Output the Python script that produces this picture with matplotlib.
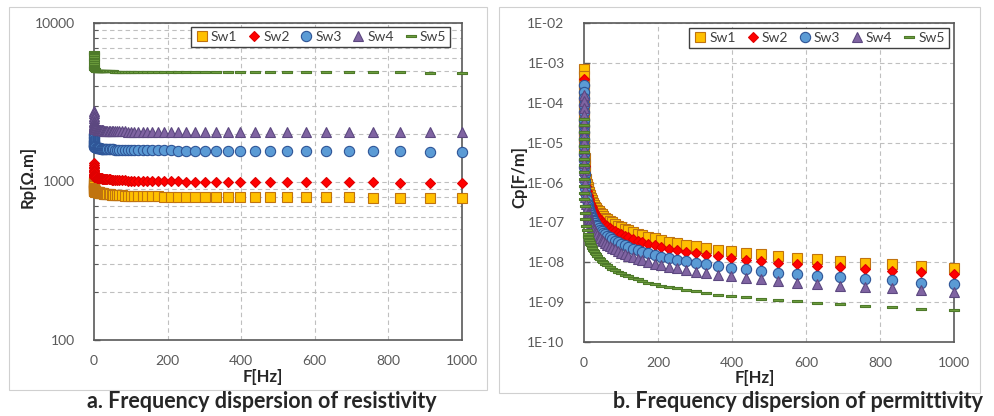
"""
Frequency dispersion of resistivity (Rp) and permittivity (Cp) for five
water saturations Sw1..Sw5, drawn as two Excel-style log panels.
"""

import matplotlib

matplotlib.use("Agg")  # Non-GUI backend
import matplotlib.pyplot as plt
from matplotlib.patches import Rectangle
from matplotlib.path import Path
from matplotlib.ticker import FixedLocator, NullLocator

plt.rcParams["font.family"] = ["Lato", "DejaVu Sans"]

# ---------------------------------------------------------------- data
SERIES = ["Sw1", "Sw2", "Sw3", "Sw4", "Sw5"]

FREQ_HZ = [
    0.01, 0.015, 0.022, 0.033, 0.05, 0.075, 0.11, 0.16, 0.24, 0.36,
    0.54, 0.8, 1.2, 1.8, 2.7, 4, 6, 8,
    10, 11, 12, 13.2, 14.5, 15.8, 17.4, 19.1, 20.9, 22.9,
    25.1, 27.5, 30.2, 33.1, 36.3, 39.8, 43.7, 47.9, 52.5, 57.5,
    63.1, 69.2, 75.9, 83.2, 91.2, 100, 110, 120, 132, 145,
    158, 174, 191, 209, 229, 251, 275, 302, 331, 363,
    398, 437, 479, 525, 575, 631, 692, 759, 832, 912,
    1000,
]

# resistivity [Ohm.m]
RP_SW1 = [
    1000, 990, 975, 960, 945, 930, 915, 905, 895, 885,
    880, 875, 870, 868, 866, 864, 862, 860,
    858, 856, 855, 853, 852, 850, 848, 846, 845, 843,
    841, 839, 837, 835, 833, 831, 829, 827, 825, 823,
    821, 819, 817, 815, 813, 811, 810, 809, 808, 807,
    806, 805, 804, 803, 802, 801, 800, 800, 799, 799,
    798, 797, 797, 796, 795, 794, 793, 792, 791, 790,
    790,
]
RP_SW2 = [
    1300, 1270, 1240, 1210, 1180, 1160, 1140, 1120, 1105, 1095,
    1085, 1078, 1072, 1068, 1065, 1062, 1060, 1058,
    1056, 1055, 1054, 1052, 1051, 1050, 1048, 1047, 1045, 1044,
    1042, 1040, 1038, 1036, 1034, 1032, 1030, 1028, 1026, 1024,
    1022, 1020, 1018, 1016, 1014, 1012, 1010, 1008, 1007, 1006,
    1005, 1004, 1003, 1002, 1001, 1000, 999, 998, 997, 996,
    995, 994, 993, 992, 991, 990, 988, 986, 984, 982,
    980,
]
RP_SW3 = [
    2000, 1960, 1920, 1880, 1840, 1800, 1770, 1740, 1715, 1695,
    1680, 1670, 1660, 1652, 1646, 1640, 1636, 1632,
    1628, 1626, 1624, 1622, 1620, 1618, 1616, 1614, 1612, 1610,
    1608, 1606, 1604, 1602, 1600, 1598, 1596, 1594, 1592, 1590,
    1588, 1586, 1584, 1582, 1580, 1578, 1576, 1575, 1574, 1573,
    1572, 1571, 1570, 1569, 1568, 1567, 1566, 1565, 1564, 1563,
    1562, 1561, 1560, 1558, 1556, 1554, 1552, 1550, 1548, 1545,
    1540,
]
RP_SW4 = [
    2800, 2700, 2600, 2500, 2420, 2360, 2310, 2270, 2240, 2215,
    2195, 2180, 2170, 2160, 2152, 2146, 2140, 2135,
    2130, 2127, 2124, 2121, 2118, 2115, 2112, 2109, 2106, 2103,
    2100, 2097, 2094, 2091, 2088, 2085, 2082, 2080, 2078, 2076,
    2074, 2072, 2070, 2068, 2066, 2064, 2062, 2061, 2060, 2059,
    2058, 2057, 2056, 2055, 2054, 2053, 2052, 2051, 2050, 2049,
    2048, 2047, 2046, 2045, 2044, 2043, 2042, 2041, 2040, 2040,
    2040,
]
RP_SW5 = [
    6600, 6500, 6400, 6250, 6100, 5950, 5800, 5650, 5500, 5380,
    5280, 5200, 5140, 5090, 5050, 5020, 5000, 4990,
    4980, 4978, 4976, 4974, 4972, 4970, 4968, 4966, 4964, 4962,
    4960, 4958, 4956, 4954, 4952, 4950, 4948, 4946, 4944, 4942,
    4940, 4938, 4936, 4934, 4932, 4930, 4928, 4926, 4924, 4922,
    4920, 4918, 4916, 4914, 4912, 4910, 4908, 4906, 4904, 4902,
    4900, 4898, 4896, 4894, 4892, 4890, 4888, 4886, 4884, 4870,
    4850,
]

# permittivity [F/m]
CP_SW1 = [
    7.0e-4, 4.7e-4, 3.2e-4, 2.2e-4, 1.45e-4, 9.7e-5, 6.6e-5, 4.6e-5, 3.1e-5, 2.1e-5,
    1.4e-5, 9.4e-6, 6.3e-6, 4.2e-6, 2.8e-6, 1.9e-6, 1.25e-6, 9.4e-7,
    7.6e-7, 6.9e-7, 6.3e-7, 5.7e-7, 5.2e-7, 4.8e-7, 4.4e-7, 4.0e-7, 3.6e-7, 3.3e-7,
    3.0e-7, 2.75e-7, 2.5e-7, 2.3e-7, 2.1e-7, 1.9e-7, 1.73e-7, 1.58e-7, 1.44e-7, 1.31e-7,
    1.2e-7, 1.09e-7, 1.0e-7, 9.1e-8, 8.3e-8, 7.6e-8, 6.9e-8, 6.3e-8, 5.7e-8, 5.2e-8,
    4.8e-8, 4.35e-8, 3.95e-8, 3.6e-8, 3.3e-8, 3.0e-8, 2.75e-8, 2.5e-8, 2.28e-8, 2.08e-8,
    1.9e-8, 1.72e-8, 1.57e-8, 1.43e-8, 1.3e-8, 1.18e-8, 1.07e-8, 9.7e-9, 8.8e-9, 7.9e-9,
    7.1e-9,
]
CP_SW2 = [
    4.0e-4, 2.7e-4, 1.85e-4, 1.25e-4, 8.4e-5, 5.6e-5, 3.8e-5, 2.7e-5, 1.8e-5, 1.2e-5,
    8.2e-6, 5.6e-6, 3.8e-6, 2.6e-6, 1.75e-6, 1.2e-6, 8.0e-7, 6.1e-7,
    5.0e-7, 4.55e-7, 4.15e-7, 3.8e-7, 3.45e-7, 3.15e-7, 2.9e-7, 2.65e-7, 2.4e-7, 2.2e-7,
    2.0e-7, 1.82e-7, 1.66e-7, 1.52e-7, 1.39e-7, 1.26e-7, 1.15e-7, 1.05e-7, 9.6e-8, 8.7e-8,
    8.0e-8, 7.3e-8, 6.6e-8, 6.0e-8, 5.5e-8, 5.0e-8, 4.6e-8, 4.2e-8, 3.8e-8, 3.45e-8,
    3.2e-8, 2.9e-8, 2.65e-8, 2.42e-8, 2.2e-8, 2.0e-8, 1.83e-8, 1.67e-8, 1.53e-8, 1.4e-8,
    1.27e-8, 1.16e-8, 1.06e-8, 9.7e-9, 8.9e-9, 8.1e-9, 7.4e-9, 6.8e-9, 6.2e-9, 5.6e-9,
    5.0e-9,
]
CP_SW3 = [
    2.8e-4, 1.9e-4, 1.3e-4, 8.6e-5, 5.7e-5, 3.8e-5, 2.6e-5, 1.8e-5, 1.2e-5, 8.0e-6,
    5.3e-6, 3.6e-6, 2.4e-6, 1.6e-6, 1.07e-6, 7.2e-7, 4.8e-7, 3.6e-7,
    2.9e-7, 2.65e-7, 2.42e-7, 2.2e-7, 2.0e-7, 1.84e-7, 1.67e-7, 1.52e-7, 1.39e-7, 1.27e-7,
    1.16e-7, 1.06e-7, 9.6e-8, 8.8e-8, 8.0e-8, 7.3e-8, 6.6e-8, 6.1e-8, 5.5e-8, 5.0e-8,
    4.6e-8, 4.2e-8, 3.8e-8, 3.5e-8, 3.2e-8, 2.9e-8, 2.65e-8, 2.42e-8, 2.2e-8, 2.0e-8,
    1.84e-8, 1.67e-8, 1.52e-8, 1.39e-8, 1.27e-8, 1.16e-8, 1.06e-8, 9.6e-9, 8.8e-9, 8.0e-9,
    7.3e-9, 6.6e-9, 6.1e-9, 5.5e-9, 5.0e-9, 4.6e-9, 4.2e-9, 3.8e-9, 3.5e-9, 3.1e-9,
    2.8e-9,
]
CP_SW4 = [
    1.6e-4, 1.08e-4, 7.4e-5, 5.0e-5, 3.3e-5, 2.2e-5, 1.5e-5, 1.05e-5, 7.0e-6, 4.7e-6,
    3.1e-6, 2.1e-6, 1.4e-6, 9.5e-7, 6.4e-7, 4.3e-7, 2.9e-7, 2.2e-7,
    1.75e-7, 1.6e-7, 1.46e-7, 1.33e-7, 1.21e-7, 1.11e-7, 1.0e-7, 9.2e-8, 8.4e-8, 7.6e-8,
    7.0e-8, 6.4e-8, 5.8e-8, 5.3e-8, 4.8e-8, 4.4e-8, 4.0e-8, 3.65e-8, 3.33e-8, 3.04e-8,
    2.77e-8, 2.53e-8, 2.3e-8, 2.1e-8, 1.92e-8, 1.75e-8, 1.6e-8, 1.46e-8, 1.33e-8, 1.21e-8,
    1.11e-8, 1.01e-8, 9.2e-9, 8.4e-9, 7.7e-9, 7.0e-9, 6.4e-9, 5.8e-9, 5.3e-9, 4.85e-9,
    4.45e-9, 4.05e-9, 3.7e-9, 3.4e-9, 3.1e-9, 2.85e-9, 2.6e-9, 2.4e-9, 2.2e-9, 2.0e-9,
    1.8e-9,
]
CP_SW5 = [
    4.0e-5, 2.7e-5, 1.85e-5, 1.25e-5, 8.4e-6, 5.7e-6, 3.9e-6, 2.7e-6, 1.8e-6, 1.22e-6,
    8.2e-7, 5.6e-7, 3.8e-7, 2.6e-7, 1.75e-7, 1.2e-7, 8.2e-8, 6.3e-8,
    5.1e-8, 4.65e-8, 4.25e-8, 3.9e-8, 3.55e-8, 3.25e-8, 2.95e-8, 2.7e-8, 2.47e-8, 2.25e-8,
    2.06e-8, 1.88e-8, 1.72e-8, 1.57e-8, 1.43e-8, 1.31e-8, 1.2e-8, 1.09e-8, 1.0e-8, 9.1e-9,
    8.3e-9, 7.6e-9, 6.9e-9, 6.3e-9, 5.8e-9, 5.3e-9, 4.85e-9, 4.45e-9, 4.05e-9, 3.7e-9,
    3.4e-9, 3.1e-9, 2.85e-9, 2.6e-9, 2.4e-9, 2.2e-9, 2.0e-9, 1.85e-9, 1.7e-9, 1.55e-9,
    1.43e-9, 1.32e-9, 1.22e-9, 1.13e-9, 1.04e-9, 9.6e-10, 8.9e-10, 8.2e-10, 7.5e-10, 6.9e-10,
    6.3e-10,
]

X_TICKS = [0, 200, 400, 600, 800, 1000]
RP_TICKS = [100, 1000, 10000]
RP_TICK_LABELS = ["100", "1000", "10000"]
CP_TICKS = [1e-10, 1e-9, 1e-8, 1e-7, 1e-6, 1e-5, 1e-4, 1e-3, 1e-2]
CP_TICK_LABELS = ["1E-10", "1E-09", "1E-08", "1E-07", "1E-06", "1E-05", "1E-04", "1E-03", "1E-02"]

# ---------------------------------------------------------------- styles
GRAY_TEXT = "#595959"
SPINE = "#595959"
GRID = "#BFBFBF"

# Excel "dash" marker: flat filled bar
DASH = Path(
    [(-1, -0.2), (1, -0.2), (1, 0.2), (-1, 0.2), (-1, -0.2)],
    [Path.MOVETO, Path.LINETO, Path.LINETO, Path.LINETO, Path.CLOSEPOLY],
)

STYLES = [
    dict(marker="s", markersize=7.0, markerfacecolor="#FFC000", markeredgecolor="#C0730F"),
    dict(marker="D", markersize=5.6, markerfacecolor="#FF0000", markeredgecolor="#E00000"),
    dict(marker="o", markersize=7.4, markerfacecolor="#5B9BD5", markeredgecolor="#2F5597"),
    dict(marker="^", markersize=7.6, markerfacecolor="#8064A2", markeredgecolor="#5C4880"),
    dict(marker=DASH, markersize=7.6, markerfacecolor="#6FA040", markeredgecolor="#4E7A2A"),
]


def style_axes(ax, yticks, ylabels, ylim, minor_grid):
    """Excel-like axis styling: log y, dashed grid, gray labels."""
    ax.set_xlim(0, 1000)
    ax.set_yscale("log")
    ax.set_ylim(*ylim)

    ax.xaxis.set_major_locator(FixedLocator(X_TICKS))
    ax.set_xticklabels([str(t) for t in X_TICKS])
    ax.yaxis.set_major_locator(FixedLocator(yticks))
    ax.set_yticklabels(ylabels)
    if not minor_grid:
        ax.yaxis.set_minor_locator(NullLocator())
    ax.xaxis.set_minor_locator(NullLocator())

    ax.tick_params(axis="x", length=0, pad=11, labelsize=10, labelcolor=GRAY_TEXT)
    ax.tick_params(axis="y", which="major", direction="in", length=4, width=1,
                   color=SPINE, pad=14, labelsize=10, labelcolor=GRAY_TEXT)
    ax.tick_params(axis="y", which="minor", direction="in", length=3, width=0.8,
                   color=SPINE, labelleft=False)

    # vertical grid only at inner ticks
    for x in X_TICKS[1:-1]:
        ax.axvline(x, color=GRID, lw=0.8, ls=(0, (4, 3)), zorder=0)
    ax.grid(axis="y", which="major", color=GRID, lw=0.8, ls=(0, (4, 3)), zorder=0)
    if minor_grid:
        ax.grid(axis="y", which="minor", color=GRID, lw=0.8, ls=(0, (4, 3)), zorder=0)
    ax.set_axisbelow(True)

    for side in ax.spines.values():
        side.set_color(SPINE)
        side.set_linewidth(1.2)


def draw_panel(ax, series_values):
    """Plot the five Sw series as marker-only scatter."""
    for name, vals, style in zip(SERIES, series_values, STYLES):
        ax.plot(FREQ_HZ, vals, linestyle="none", markeredgewidth=0.8,
                label=name, clip_on=False, zorder=3, **style)


def add_legend(ax, anchor):
    leg = ax.legend(ncol=5, loc="upper right", bbox_to_anchor=anchor,
                    borderaxespad=0, fontsize=10, frameon=True, fancybox=False,
                    framealpha=1, edgecolor="#404040", borderpad=0.3,
                    handlelength=1.0, handletextpad=0.15, columnspacing=0.7)
    leg.get_frame().set_linewidth(1.0)
    for txt in leg.get_texts():
        txt.set_color("#404040")


fig = plt.figure(figsize=(9.94, 4.16), dpi=100)

# light gray chart-area borders, as in Excel
fig.patches.append(Rectangle((9 / 994, 26 / 416), 478 / 994, 383 / 416,
                             transform=fig.transFigure, fill=False,
                             edgecolor="#D0D0D0", lw=0.8))
fig.patches.append(Rectangle((499 / 994, 23 / 416), 481 / 994, 386 / 416,
                             transform=fig.transFigure, fill=False,
                             edgecolor="#D0D0D0", lw=0.8))

ax_rp = fig.add_axes([94 / 994, 76 / 416, 368 / 994, 317 / 416])
ax_cp = fig.add_axes([584 / 994, 74 / 416, 370 / 994, 319 / 416])

style_axes(ax_rp, RP_TICKS, RP_TICK_LABELS, (100, 10000), minor_grid=True)
style_axes(ax_cp, CP_TICKS, CP_TICK_LABELS, (1e-10, 1e-2), minor_grid=False)

draw_panel(ax_rp, [RP_SW1, RP_SW2, RP_SW3, RP_SW4, RP_SW5])
draw_panel(ax_cp, [CP_SW1, CP_SW2, CP_SW3, CP_SW4, CP_SW5])

add_legend(ax_rp, (0.968, 0.988))
add_legend(ax_cp, (0.986, 0.984))

# axis titles
label_kw = dict(ha="center", va="center", fontsize=12, weight="bold", color="#262626")
fig.text(28 / 994, 1 - 177 / 416, "Rp[Ω.m]", rotation=90, **label_kw)
fig.text(519 / 994, 1 - 177 / 416, "Cp[F/m]", rotation=90, **label_kw)
fig.text(263 / 994, 1 - 377 / 416, "F[Hz]", **label_kw)
fig.text(755 / 994, 1 - 378 / 416, "F[Hz]", **label_kw)

# captions
cap_kw = dict(ha="center", va="center", fontsize=15.5, weight="bold", color="#262626")
fig.text(262 / 994, 1 - 401 / 416, "a. Frequency dispersion of resistivity", **cap_kw)
fig.text(798 / 994, 1 - 401 / 416, "b. Frequency dispersion of permittivity", **cap_kw)

fig.savefig("out.png", dpi=100)
plt.close(fig)
